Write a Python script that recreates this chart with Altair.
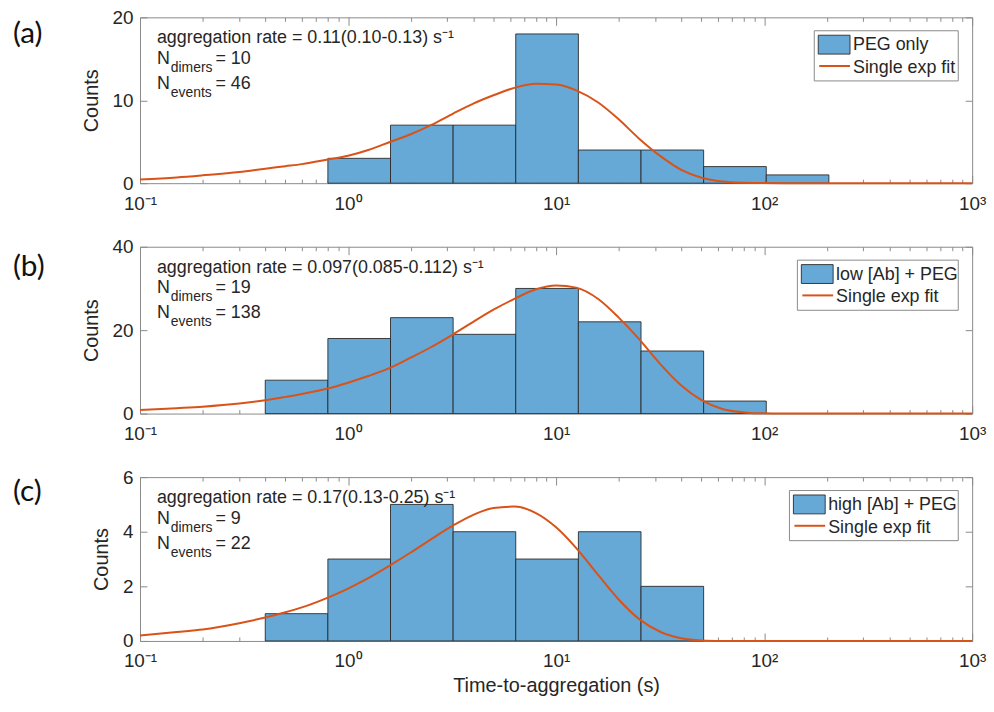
import json
import altair as alt
import pandas as pd

# ---------------- data ----------------
bin_edges = [0.4, 0.8, 1.6, 3.2, 6.4, 12.8, 25.6, 51.2, 102.4, 204.8]
counts_a = [0, 3, 7, 7, 18, 4, 4, 2, 1]
counts_b = [8, 18, 23, 19, 30, 22, 15, 3, 0]
counts_c = [1, 3, 5, 4, 3, 4, 2, 0, 0]

fit_t = [0.1, 0.15, 0.2, 0.3, 0.4, 0.5, 0.6, 0.8, 1, 1.25, 1.6, 2, 2.5, 3.2, 4, 5, 6.3, 8,
         10, 12.5, 16, 20, 25, 32, 40, 50, 63, 80, 100, 160, 1000]
fit_n_a = [0.45, 0.7, 0.95, 1.35, 1.75, 2.05, 2.3, 2.85, 3.3, 4.0, 5.0, 5.9, 7.0, 8.4, 9.6, 10.6, 11.5, 12.0,
           11.9, 11.2, 9.7, 7.7, 5.4, 3.2, 1.6, 0.65, 0.2, 0.05, 0.01, 0, 0]
fit_n_b = [0.85, 1.3, 1.65, 2.4, 3.2, 4.0, 4.7, 6.0, 7.4, 9.0, 11.0, 13.4, 15.9, 19.0, 22.0, 24.9, 27.5, 29.8,
           30.7, 30.2, 27.4, 23.0, 17.9, 11.6, 6.7, 3.2, 1.1, 0.28, 0.05, 0, 0]
fit_n_c = [0.2, 0.33, 0.42, 0.65, 0.86, 1.05, 1.23, 1.59, 1.92, 2.3, 2.78, 3.24, 3.72, 4.23, 4.62, 4.87, 4.92, 4.68,
           4.16, 3.4, 2.4, 1.52, 0.81, 0.32, 0.1, 0.02, 0.003, 0, 0, 0, 0]

panel_tags = ["(a)", "(b)", "(c)"]
rate_texts = [
    "aggregation rate = 0.11(0.10-0.13) s\u207b\u00b9",
    "aggregation rate = 0.097(0.085-0.112) s\u207b\u00b9",
    "aggregation rate = 0.17(0.13-0.25) s\u207b\u00b9",
]
n_dimers = [10, 19, 9]
n_events = [46, 138, 22]
legend_labels = ["PEG only", "low [Ab] + PEG", "high [Ab] + PEG"]
fit_label = "Single exp fit"

y_max = [20, 40, 6]
y_ticks = [[0, 10, 20], [0, 20, 40], [0, 2, 4, 6]]
x_major = [0.1, 1, 10, 100, 1000]
x_major_labels = ["10\u207b\u00b9", "10\u2070", "10\u00b9", "10\u00b2", "10\u00b3"]
x_minor = [0.2, 0.3, 0.4, 0.5, 0.6, 0.7, 0.8, 0.9,
           2, 3, 4, 5, 6, 7, 8, 9,
           20, 30, 40, 50, 60, 70, 80, 90,
           200, 300, 400, 500, 600, 700, 800, 900]
x_title = "Time-to-aggregation (s)"
y_title = "Counts"

# ---------------- style / layout ----------------
W = 838
HEIGHTS = [167, 168, 165]
TAG_Y = [17, 20, 15]
LEG_LEFT = [679, 662, 654]
LEG_RIGHT = 824
FONT = "Liberation Sans"
TAG_FONT = "Lato"
TXT = "#262626"
BOX = "#8a8a8a"
BAR = "#66A9D7"
EDGE = "#2b2b2b"
FIT = "#D95319"

label_expr = "{}[round(log(datum.value)/LN10)+1]".format(
    json.dumps(x_major_labels, ensure_ascii=False))


def panel(i, counts, fit_n, bottom):
    H = HEIGHTS[i]
    xscale = alt.Scale(type="log", domain=[0.1, 1000], nice=False)
    yscale = alt.Scale(domain=[0, y_max[i]], nice=False, zero=True)

    # pixel (relative to the plot area) -> data coordinates, for annotations
    def dx(px):
        return 10 ** (-1 + 4.0 * px / W)

    def dy(py):
        return y_max[i] * (1 - py / H)

    def text_layer(txt, px, py, size, font=FONT, color=TXT, align="left"):
        df = pd.DataFrame({"x": [dx(px)], "y": [dy(py)], "t": [txt]})
        return alt.Chart(df).mark_text(
            align=align, baseline="middle", font=font, fontSize=size, color=color
        ).encode(
            x=alt.X("x:Q", scale=xscale, axis=None),
            y=alt.Y("y:Q", scale=yscale, axis=None),
            text="t:N",
        )

    def box_layer(px1, px2, py1, py2, **kw):
        df = pd.DataFrame({"x": [dx(px1)], "x2": [dx(px2)], "y": [dy(py1)], "y2": [dy(py2)]})
        return alt.Chart(df).mark_rect(**kw).encode(
            x=alt.X("x:Q", scale=xscale, axis=None), x2="x2:Q",
            y=alt.Y("y:Q", scale=yscale, axis=None), y2="y2:Q",
        )

    def seg_layer(px1, px2, py, **kw):
        df = pd.DataFrame({"x": [dx(px1)], "x2": [dx(px2)], "y": [dy(py)]})
        return alt.Chart(df).mark_rule(**kw).encode(
            x=alt.X("x:Q", scale=xscale, axis=None), x2="x2:Q",
            y=alt.Y("y:Q", scale=yscale, axis=None),
        )

    bars_df = pd.DataFrame({"start": bin_edges[:-1], "end": bin_edges[1:], "count": counts})
    bars_df = bars_df[bars_df["count"] > 0].copy()
    bars_df["zero"] = 0

    bars = alt.Chart(bars_df).mark_rect(fill=BAR, stroke=EDGE, strokeWidth=0.9).encode(
        x=alt.X("start:Q", scale=xscale,
                axis=alt.Axis(orient="bottom", values=x_minor, tickSize=4, offset=-4,
                              labels=False, domain=False, grid=False, title=None)),
        x2="end:Q",
        y=alt.Y("count:Q", scale=yscale,
                axis=alt.Axis(orient="left", values=y_ticks[i], tickSize=7, offset=-7,
                              labelPadding=7, domain=False, grid=False, title=y_title,
                              titlePadding=11)),
        y2="zero:Q",
    )

    fit_df = pd.DataFrame({"t": fit_t, "n": fit_n})
    line = alt.Chart(fit_df).mark_line(color=FIT, strokeWidth=2, interpolate="monotone").encode(
        x=alt.X("t:Q", scale=xscale,
                axis=alt.Axis(orient="top", values=x_minor, tickSize=4, offset=-4,
                              labels=False, domain=False, grid=False, title=None)),
        y=alt.Y("n:Q", scale=yscale,
                axis=alt.Axis(orient="right", values=y_ticks[i], tickSize=7, offset=-7,
                              labels=False, domain=False, grid=False, title=None)),
    )

    major_df = pd.DataFrame({"v": x_major, "zero": [0] * len(x_major)})
    major_bottom = alt.Chart(major_df).mark_point(opacity=0).encode(
        x=alt.X("v:Q", scale=xscale,
                axis=alt.Axis(orient="bottom", values=x_major, tickSize=8, offset=-8,
                              labelExpr=label_expr, labelPadding=11, labelFlush=False,
                              labelOverlap=False, domain=False, grid=False,
                              title=x_title if bottom else None, titlePadding=5)),
        y=alt.Y("zero:Q", scale=yscale, axis=None),
    )
    major_top = alt.Chart(major_df).mark_point(opacity=0).encode(
        x=alt.X("v:Q", scale=xscale,
                axis=alt.Axis(orient="top", values=x_major, tickSize=8, offset=-8,
                              labels=False, domain=False, grid=False, title=None)),
        y=alt.Y("zero:Q", scale=yscale, axis=None),
    )

    L = LEG_LEFT[i]
    layers = [
        bars, line, major_bottom, major_top,
        text_layer(rate_texts[i], 17, 21, 18),
        text_layer("N", 17, 42, 18),
        text_layer("dimers", 31, 51, 14),
        text_layer("= {}".format(n_dimers[i]), 76, 42, 18),
        text_layer("N", 17, 67, 18),
        text_layer("events", 31, 76, 14),
        text_layer("= {}".format(n_events[i]), 76, 67, 18),
        box_layer(L, LEG_RIGHT, 13.5, 64, fill="white", stroke=BOX, strokeWidth=1),
        box_layer(L + 4, L + 36, 18, 37, fill=BAR, stroke=EDGE, strokeWidth=0.9),
        seg_layer(L + 5, L + 36, 49, color=FIT, strokeWidth=2),
        text_layer(legend_labels[i], L + 39, 28, 18),
        text_layer(fit_label, L + 39, 51, 18),
        text_layer(panel_tags[i], -128, TAG_Y[i], 30, font=TAG_FONT, color="#111111"),
    ]
    return alt.layer(*layers).resolve_axis(x="independent", y="independent").properties(
        width=W, height=H)


pa = panel(0, counts_a, fit_n_a, False)
pb = panel(1, counts_b, fit_n_b, False)
pc = panel(2, counts_c, fit_n_c, True)

chart = alt.vconcat(pa, pb, pc, spacing=64, bounds="flush").configure_view(
    stroke=BOX, strokeWidth=1
).configure_axis(
    labelFont=FONT, titleFont=FONT, labelColor=TXT, titleColor=TXT,
    labelFontSize=19, titleFontSize=20, titleFontWeight="normal",
    tickColor=BOX, tickWidth=1, grid=False
).properties(
    padding={"left": 12, "top": 5, "right": 7, "bottom": 5},
    background="white"
)

chart.save("out.html", embed_options={"renderer": "svg", "actions": False})
